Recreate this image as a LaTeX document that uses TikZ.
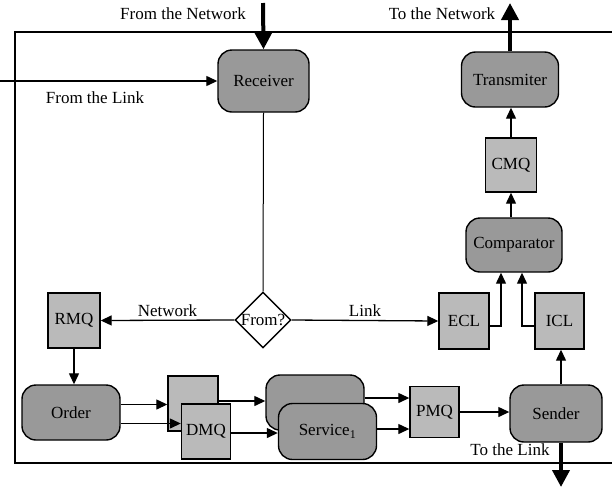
\documentclass[tikz,border=0pt]{standalone}
\usepackage{fontspec}
\setmainfont{Liberation Serif}
\usepackage{tikz}
\usetikzlibrary{shapes.geometric,arrows.meta,positioning}
\tikzset{
  proc/.style={rectangle, draw, rounded corners=14pt, fill=black!40, line width=1.4pt,
               inner sep=0pt, align=center},
  queue/.style={rectangle, draw, fill=black!27, line width=1.4pt, inner sep=0pt,
                align=center},
  dec/.style={diamond, draw, fill=white, line width=1.4pt, inner sep=0pt,
              minimum width=56pt, minimum height=56pt},
  lbl/.style={inner sep=1pt},
  arr/.style={-{Triangle[length=11pt,width=10pt]}, line width=1.3pt},
  bigarr/.style={-{Triangle[length=17pt,width=17pt]}, line width=4pt}
}
\begin{document}
\begin{tikzpicture}[x=1pt,y=-1pt,font=\fontsize{17}{19}\selectfont]
  \useasboundingbox (0,0) rectangle (612,488);
  \draw[line width=1.4pt] (612,32) -- (15,32) -- (15,463) -- (612,463);
  \node[proc, minimum width=91pt, minimum height=62pt] (rcv) at (263.5,81) {Receiver};
  \node[proc, minimum width=97pt, minimum height=55pt] (tx) at (510,79.5) {Transmiter};
  \node[queue, minimum width=51pt, minimum height=54pt] (cmq) at (511,165) {CMQ};
  \node[proc, minimum width=96pt, minimum height=54pt] (cmp) at (514,245) {Comparator};
  \node[dec] (from) at (263,320) {From?};
  \node[queue, minimum width=52pt, minimum height=55pt] (rmq) at (74,320.5) {RMQ};
  \node[queue, minimum width=50pt, minimum height=56pt] (ecl) at (464,321) {ECL};
  \node[queue, minimum width=49pt, minimum height=56pt] (icl) at (559.5,321) {ICL};
  \node[proc, minimum width=98pt, minimum height=55pt] (order) at (71,412.5) {Order};
  \node[queue, minimum width=50pt, minimum height=55pt] (dmqb) at (193,403.5) {};
  \node[queue, minimum width=49pt, minimum height=55pt] (dmq) at (206,431.5) {DMQ};
  \node[proc, minimum width=98pt, minimum height=55pt] (svcb) at (315,402.5) {};
  \node[proc, minimum width=98pt, minimum height=56pt] (svc) at (327.5,431.5) {Service\textsubscript{1}};
  \node[queue, minimum width=49pt, minimum height=51pt] (pmq) at (434.5,412) {PMQ};
  \node[proc, minimum width=92pt, minimum height=57pt] (snd) at (556,413.5) {Sender};

  \coordinate (netin) at (263,3);
  \coordinate (netout) at (510,3);
  \coordinate (linkin) at (0,81);
  \coordinate (linkout) at (561,487);
  \node[lbl] (tnetin) at (183,14) {From the Network};
  \node[lbl] (tnetout) at (442,14) {To the Network};
  \node[lbl] (tlinkin) at (95,98) {From the Link};
  \node[lbl] (tlinkout) at (510,450) {To the Link};

  \draw[bigarr] (netin) -- (rcv.north);
  \draw[arr] (linkin) -- (rcv.west);
  \draw[line width=1pt] (rcv.south) -- (from.north);
  \draw[arr] (from.west) -- node[lbl, above=2pt] {Network} (rmq.east);
  \draw[arr] (from.east) -- node[lbl, above=2pt] {Link} (ecl.west);
  \draw[arr] (rmq.south) -- (order.north -| rmq.south);
  \draw[arr] ([yshift=-5pt]ecl.east) -| ([xshift=-13pt]cmp.south);
  \draw[arr] ([yshift=-5pt]icl.west) -| ([xshift=8pt]cmp.south);
  \draw[arr] (snd.north -| linkout) -- (icl.south -| linkout);
  \draw[arr] (cmp.north -| cmq.south) -- (cmq.south);
  \draw[arr] (cmq.north) -- (tx.south -| cmq.north);
  \draw[bigarr] (tx.north) -- (netout);
  \draw[arr] ([yshift=8pt]order.east) -- ([yshift=8pt]order.east -| dmqb.west);
  \draw[arr] ([yshift=-11pt]order.east) -- ([yshift=-11pt]order.east -| dmq.west);
  \draw[arr] ([yshift=2.5pt]dmqb.east) -- ([yshift=2.5pt]dmqb.east -| svcb.west);
  \draw[arr] ([yshift=-1.5pt]dmq.east) -- ([yshift=-1.5pt]dmq.east -| svc.west);
  \draw[arr] ([yshift=4.5pt]svcb.east) -- ([yshift=4.5pt]svcb.east -| pmq.west);
  \draw[arr] ([yshift=2.5pt]svc.east) -- ([yshift=2.5pt]svc.east -| pmq.west);
  \draw[arr] (pmq.east) -- (pmq.east -| snd.west);
  \draw[bigarr] (snd.south -| linkout) -- (linkout);
\end{tikzpicture}
\end{document}
